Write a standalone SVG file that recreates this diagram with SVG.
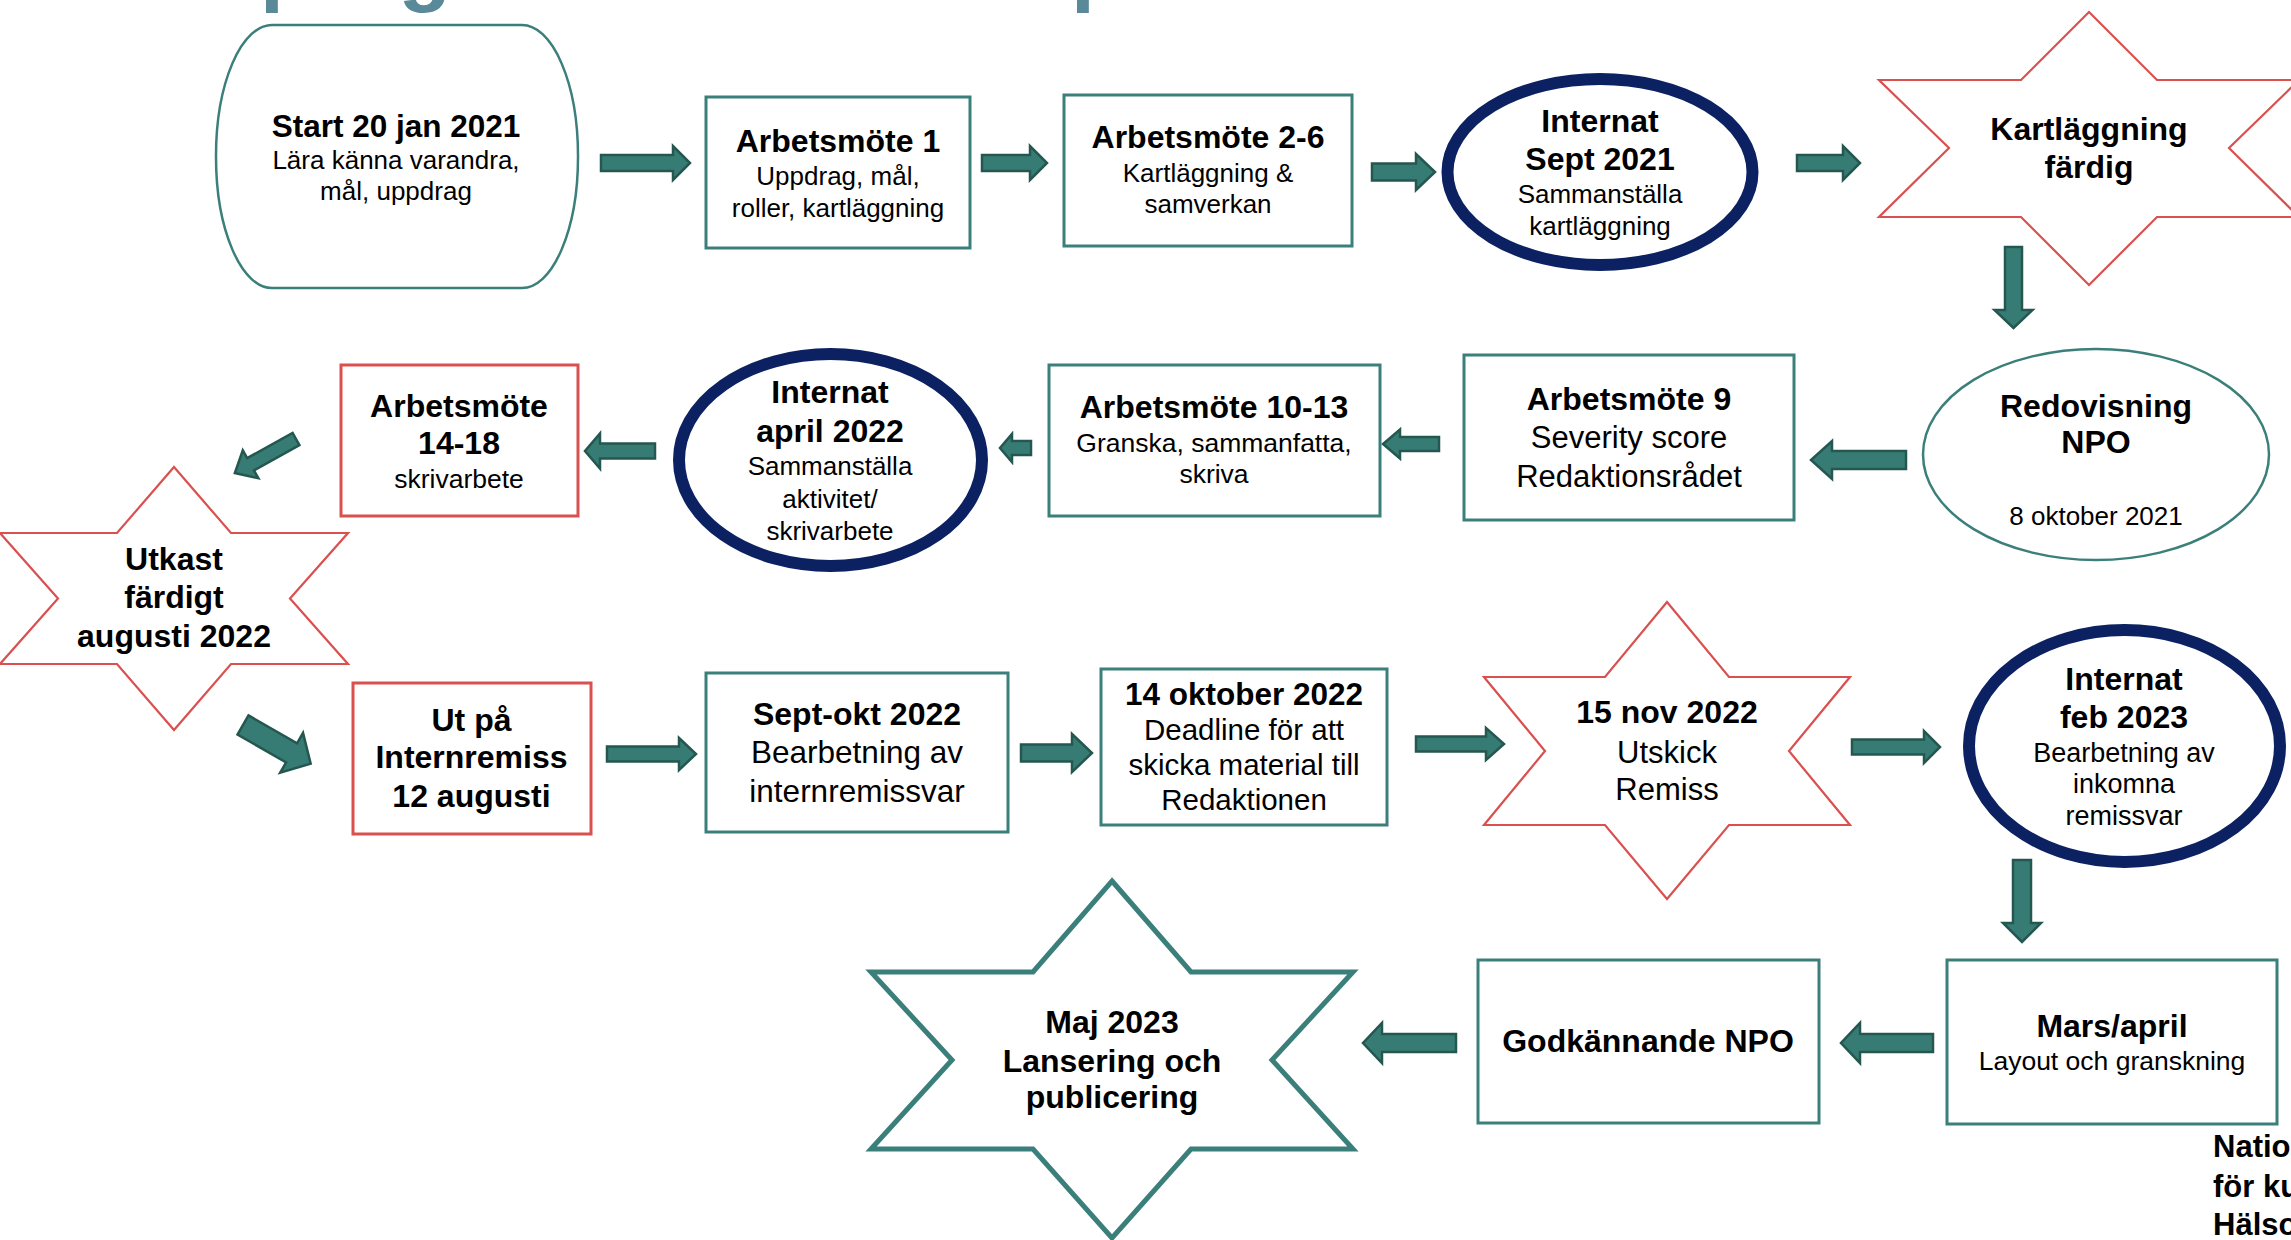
<svg xmlns="http://www.w3.org/2000/svg" width="2291" height="1240" viewBox="0 0 2291 1240">
<style>
text{font-family:"Liberation Sans",Arial,sans-serif;fill:#000;text-anchor:middle}
.b{font-weight:bold;font-size:32px}
.r{font-size:26px}
.rl{font-size:31px}
.teal{fill:#fff;stroke:#3B7F7A;stroke-width:3}
.red{fill:#fff;stroke:#D9504F;stroke-width:3}
.redstar{fill:#fff;stroke:#D9504F;stroke-width:2.2}
.navy{fill:#fff;stroke:#0C2161;stroke-width:12}
.arr{fill:#377C74;stroke:#24574F;stroke-width:2.5;stroke-linejoin:miter}
.ttl{font-family:"Liberation Sans",Arial,sans-serif;font-weight:bold;font-size:86px;fill:#5A8A9A;text-anchor:start}
.corner{text-anchor:start;font-weight:bold;font-size:31px}
</style>
<rect width="2291" height="1240" fill="#fff"/>
<g id="title-fragments">
<text class="ttl" x="260" y="-5">prog</text>
<text class="ttl" x="1071" y="-5">p</text>
</g>
<g id="connectors">
<polygon class="arr" points="601,155 673,155 673,146 690,163 673,180 673,171 601,171"/>
<polygon class="arr" points="982,155 1030,155 1030,146 1047,163 1030,180 1030,171 982,171"/>
<polygon class="arr" points="1372,163.5 1416,163.5 1416,154 1435,172 1416,190 1416,180.5 1372,180.5"/>
<polygon class="arr" points="1797,155 1843,155 1843,146 1860,163 1843,180 1843,171 1797,171"/>
<polygon class="arr" points="2005,247 2022,247 2022,310 2032.5,310 2013.5,328 1994.5,310 2005,310"/>
<polygon class="arr" points="1906,451 1832,451 1832,441 1811,460 1832,479 1832,469 1906,469"/>
<polygon class="arr" points="1439,437 1400,437 1400,429.5 1383,444 1400,458.5 1400,451 1439,451"/>
<polygon class="arr" points="1031,441 1012,441 1012,434 1000,448 1012,462 1012,455 1031,455"/>
<polygon class="arr" points="655,443.5 600,443.5 600,433.5 585,451 600,468.5 600,458.5 655,458.5"/>
<polygon class="arr" transform="translate(296,439) rotate(150.9)" points="0,-7 52,-7 52,-16 70,0 52,16 52,7 0,7"/>
<polygon class="arr" transform="translate(243,725) rotate(29.8)" points="0,-11 56,-11 56,-23 78,0 56,23 56,11 0,11"/>
<polygon class="arr" points="607,746.5 679,746.5 679,738 696,754 679,770 679,761.5 607,761.5"/>
<polygon class="arr" points="1021,744.5 1072,744.5 1072,734 1092,753 1072,772 1072,761.5 1021,761.5"/>
<polygon class="arr" points="1416,736.5 1486,736.5 1486,728 1504,744 1486,760 1486,751.5 1416,751.5"/>
<polygon class="arr" points="1852,739.5 1924,739.5 1924,731 1940,747 1924,763 1924,754.5 1852,754.5"/>
<polygon class="arr" points="2013,860 2031,860 2031,923 2041,923 2022,942 2003,923 2013,923"/>
<polygon class="arr" points="1933,1034 1860,1034 1860,1023 1841,1043 1860,1063 1860,1052 1933,1052"/>
<polygon class="arr" points="1456,1034 1382,1034 1382,1023 1363,1043 1382,1063 1382,1052 1456,1052"/>
</g>
<g id="start">
<rect class="teal" x="216" y="25" width="362" height="263" rx="56" ry="131" style="stroke-width:2.5"/>
<text class="b" x="396" y="137" style="font-size:31.5px">Start 20 jan 2021</text>
<text class="r" x="396" y="169">Lära känna varandra,</text>
<text class="r" x="396" y="200">mål, uppdrag</text>
</g>
<g id="arb1">
<rect class="teal" x="706" y="97" width="264" height="151"/>
<text class="b" x="838" y="152">Arbetsmöte 1</text>
<text class="r" x="838" y="185">Uppdrag, mål,</text>
<text class="r" x="838" y="217">roller, kartläggning</text>
</g>
<g id="arb2-6">
<rect class="teal" x="1064" y="95" width="288" height="151"/>
<text class="b" x="1208" y="148">Arbetsmöte 2-6</text>
<text class="r" x="1208" y="182">Kartläggning &amp;</text>
<text class="r" x="1208" y="213">samverkan</text>
</g>
<g id="internat-sept">
<ellipse class="navy" cx="1600" cy="172" rx="152.5" ry="93"/>
<text class="b" x="1600" y="132">Internat</text>
<text class="b" x="1600" y="170">Sept 2021</text>
<text class="r" x="1600" y="203">Sammanställa</text>
<text class="r" x="1600" y="235">kartläggning</text>
</g>
<g id="kartlaggning">
<polygon class="redstar" points="2089,12 2157,80 2299,80 2229,148 2299,217 2157,217 2089,285 2021,217 1879,217 1949,148 1879,80 2021,80"/>
<text class="b" x="2089" y="140">Kartläggning</text>
<text class="b" x="2089" y="178">färdig</text>
</g>
<g id="redovisning">
<ellipse class="teal" cx="2096" cy="454.5" rx="173" ry="105.5" style="stroke-width:2.5"/>
<text class="b" x="2096" y="417">Redovisning</text>
<text class="b" x="2096" y="453">NPO</text>
<text class="r" x="2096" y="525">8 oktober 2021</text>
</g>
<g id="arb9">
<rect class="teal" x="1464" y="355" width="330" height="165"/>
<text class="b" x="1629" y="410">Arbetsmöte 9</text>
<text class="rl" x="1629" y="448">Severity score</text>
<text class="rl" x="1629" y="487">Redaktionsrådet</text>
</g>
<g id="arb10-13">
<rect class="teal" x="1049" y="365" width="331" height="151"/>
<text class="b" x="1214" y="418">Arbetsmöte 10-13</text>
<text class="r" x="1214" y="452" style="font-size:26.5px">Granska, sammanfatta,</text>
<text class="r" x="1214" y="483" style="font-size:26.5px">skriva</text>
</g>
<g id="internat-april">
<ellipse class="navy" cx="830.5" cy="460" rx="151.5" ry="106"/>
<text class="b" x="830" y="403">Internat</text>
<text class="b" x="830" y="442">april 2022</text>
<text class="r" x="830" y="475">Sammanställa</text>
<text class="r" x="830" y="508">aktivitet/</text>
<text class="r" x="830" y="540">skrivarbete</text>
</g>
<g id="arb14-18">
<rect class="red" x="341" y="365" width="237" height="151"/>
<text class="b" x="459" y="417">Arbetsmöte</text>
<text class="b" x="459" y="454">14-18</text>
<text class="r" x="459" y="488" style="font-size:26.5px">skrivarbete</text>
</g>
<g id="utkast">
<polygon class="redstar" points="174,467 231,533 348,533 290,598.5 348,664 231,664 174,730 117,664 0,664 58,598.5 0,533 117,533"/>
<text class="b" x="174" y="570">Utkast</text>
<text class="b" x="174" y="608">färdigt</text>
<text class="b" x="174" y="647">augusti 2022</text>
</g>
<g id="ut-pa">
<rect class="red" x="353" y="683" width="238" height="151"/>
<text class="b" x="471.5" y="731">Ut på</text>
<text class="b" x="471.5" y="768">Internremiss</text>
<text class="b" x="471.5" y="807">12 augusti</text>
</g>
<g id="sept-okt">
<rect class="teal" x="706" y="673" width="302" height="159"/>
<text class="b" x="857" y="725">Sept-okt 2022</text>
<text class="rl" x="857" y="763" style="font-size:31.5px">Bearbetning av</text>
<text class="rl" x="857" y="802" style="font-size:31.5px">internremissvar</text>
</g>
<g id="okt14">
<rect class="teal" x="1101" y="669" width="286" height="156"/>
<text class="b" x="1244" y="705" style="font-size:31.5px">14 oktober 2022</text>
<text class="r" x="1244" y="740" style="font-size:29.5px">Deadline för att</text>
<text class="r" x="1244" y="775" style="font-size:29.5px">skicka material till</text>
<text class="r" x="1244" y="810" style="font-size:29.5px">Redaktionen</text>
</g>
<g id="nov15">
<polygon class="redstar" points="1667,602 1729,677 1850,677 1789,751 1850,825 1729,825 1667,899 1605,825 1484,825 1545,751 1484,677 1605,677"/>
<text class="b" x="1667" y="723">15 nov 2022</text>
<text class="rl" x="1667" y="763">Utskick</text>
<text class="rl" x="1667" y="800">Remiss</text>
</g>
<g id="internat-feb">
<ellipse class="navy" cx="2124.5" cy="746" rx="155.5" ry="116"/>
<text class="b" x="2124" y="690">Internat</text>
<text class="b" x="2124" y="728">feb 2023</text>
<text class="r" x="2124" y="762" style="font-size:27px">Bearbetning av</text>
<text class="r" x="2124" y="793" style="font-size:27px">inkomna</text>
<text class="r" x="2124" y="825" style="font-size:27px">remissvar</text>
</g>
<g id="mars-april">
<rect class="teal" x="1947" y="960" width="330" height="164"/>
<text class="b" x="2112" y="1037">Mars/april</text>
<text class="r" x="2112" y="1070" style="font-size:26.5px">Layout och granskning</text>
</g>
<g id="godkannande">
<rect class="teal" x="1478" y="960" width="341" height="163"/>
<text class="b" x="1648" y="1052">Godkännande NPO</text>
</g>
<g id="maj2023">
<polygon fill="#fff" stroke="#3B7F7A" stroke-width="5" points="1112,881 1191,972 1353,972 1272,1060 1353,1149 1191,1149 1112,1238 1033,1149 871,1149 952,1060 871,972 1033,972"/>
<text class="b" x="1112" y="1033">Maj 2023</text>
<text class="b" x="1112" y="1072">Lansering och</text>
<text class="b" x="1112" y="1108">publicering</text>
</g>
<g id="corner-text">
<text class="corner" x="2213" y="1157">Natio</text>
<text class="corner" x="2213" y="1197">för ku</text>
<text class="corner" x="2213" y="1235">Hälso</text>
</g>
</svg>
